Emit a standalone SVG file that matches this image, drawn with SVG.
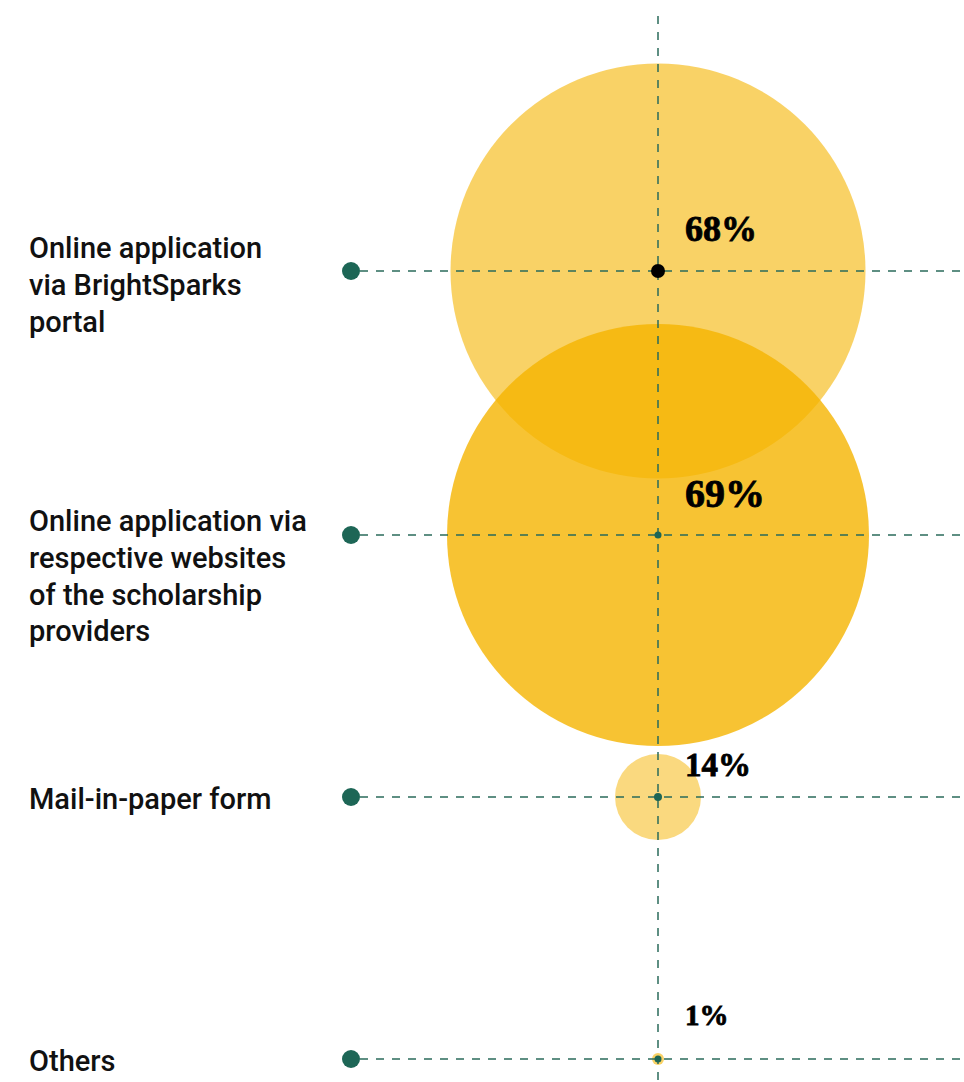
<svg xmlns="http://www.w3.org/2000/svg" width="964" height="1082" viewBox="0 0 964 1082">
<style>
.lbl{font-family:Roboto,"Liberation Sans",sans-serif;font-weight:500;font-size:29px;fill:#111}
.pct{font-family:"Liberation Serif","DejaVu Serif",serif;font-weight:bold;fill:#000;stroke:#000;stroke-width:0.8}
.dash{stroke:#2a6b5b;stroke-width:1.5;stroke-dasharray:8 8;fill:none}
.ldot{fill:#1d6656}
.cdot{fill:#1d6656}
.bub{fill:#f5b400}
</style>
<rect width="964" height="1082" fill="#fff"/>
<g id="bubbles">
<circle id="bubble-68" class="bub" cx="658" cy="271" r="207.5" fill-opacity="0.6"/>
<circle id="bubble-69" class="bub" cx="658" cy="535" r="211" fill-opacity="0.8"/>
<circle id="bubble-14" class="bub" cx="658" cy="797" r="43" fill-opacity="0.5"/>
<circle id="bubble-1" class="bub" cx="658" cy="1059" r="6" fill-opacity="0.6"/>
</g>
<g id="connectors">
<line class="dash" x1="658" y1="16" x2="658" y2="1082"/>
<line class="dash" x1="360" y1="271" x2="964" y2="271"/>
<line class="dash" x1="360" y1="535" x2="964" y2="535"/>
<line class="dash" x1="360" y1="797" x2="964" y2="797"/>
<line class="dash" x1="360" y1="1059" x2="964" y2="1059"/>
</g>
<g id="row-portal">
<text class="lbl" x="29"><tspan x="29" y="258">Online application</tspan><tspan x="29" y="295">via BrightSparks</tspan><tspan x="29" y="332">portal</tspan></text>
<circle class="ldot" cx="351" cy="271" r="9"/>
<circle cx="658" cy="271" r="7" fill="#000"/>
<text class="pct" x="685" y="241" font-size="36">68%</text>
</g>
<g id="row-websites">
<text class="lbl" x="29"><tspan x="29" y="531">Online application via</tspan><tspan x="29" y="568">respective websites</tspan><tspan x="29" y="605">of the scholarship</tspan><tspan x="29" y="641">providers</tspan></text>
<circle class="ldot" cx="351" cy="535" r="9"/>
<circle class="cdot" cx="658" cy="535" r="3.5"/>
<text class="pct" x="685" y="507" font-size="40">69%</text>
</g>
<g id="row-mail">
<text class="lbl" x="29" y="809">Mail-in-paper form</text>
<circle class="ldot" cx="351" cy="797" r="9"/>
<circle class="cdot" cx="658" cy="797" r="4"/>
<text class="pct" x="685" y="776" font-size="33">14%</text>
</g>
<g id="row-others">
<text class="lbl" x="29" y="1071">Others</text>
<circle class="ldot" cx="351" cy="1059" r="9"/>
<circle class="cdot" cx="658" cy="1059" r="3.5"/>
<text class="pct" x="685" y="1025" font-size="29">1%</text>
</g>
</svg>
